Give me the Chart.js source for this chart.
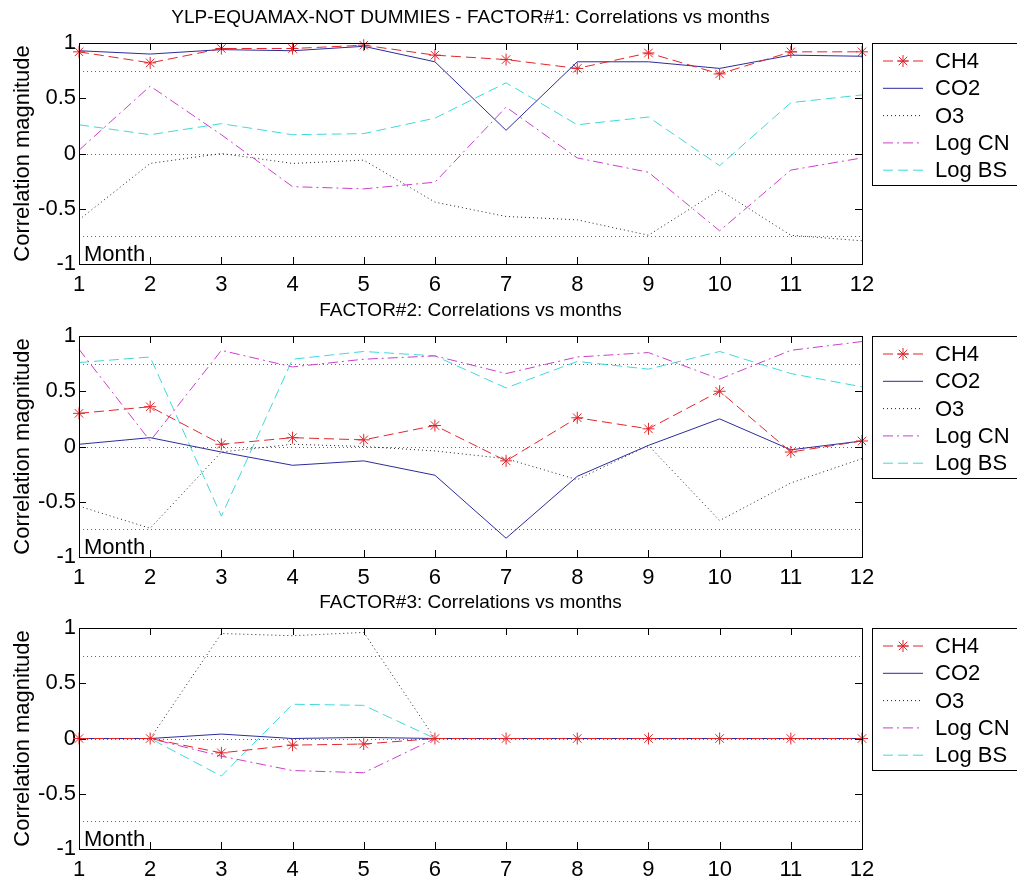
<!DOCTYPE html>
<html>
<head>
<meta charset="utf-8">
<script src="https://cdn.jsdelivr.net/npm/chart.js@4.4.1/dist/chart.umd.min.js"></script>
<style>
  html, body { margin: 0; padding: 0; background: #fff; }
  #wrap { position: relative; width: 1017px; height: 880px; overflow: hidden; }
  .panel { position: absolute; left: 0; width: 1017px; height: 293px; }
</style>
</head>
<body>
<div id="wrap">
  <div class="panel" style="top:0px"><canvas id="factor1" width="1017" height="293"></canvas></div>
  <div class="panel" style="top:293px"><canvas id="factor2" width="1017" height="293"></canvas></div>
  <div class="panel" style="top:585px"><canvas id="factor3" width="1017" height="293"></canvas></div>
</div>
<script>
// months on the x axis and the names in the legend
const months = ['1', '2', '3', '4', '5', '6', '7', '8', '9', '10', '11', '12'];
const seriesNames = ['CH4', 'CO2', 'O3', 'Log CN', 'Log BS'];
const refLevels = [0.75, 0, -0.75];
const yTicks = [-1, -0.5, 0, 0.5, 1];

// FACTOR#1
const f1CH4   = [0.92, 0.82, 0.95, 0.95, 0.98, 0.89, 0.85, 0.77, 0.91, 0.72, 0.92, 0.92];
const f1CO2   = [0.93, 0.90, 0.94, 0.93, 0.97, 0.83, 0.21, 0.83, 0.83, 0.77, 0.89, 0.88];
const f1O3    = [-0.60, -0.09, 0.00, -0.09, -0.06, -0.44, -0.57, -0.60, -0.74, -0.33, -0.74, -0.79];
const f1LogCN = [0.03, 0.61, 0.17, -0.30, -0.32, -0.26, 0.42, -0.04, -0.17, -0.70, -0.15, -0.04];
const f1LogBS = [0.26, 0.17, 0.27, 0.17, 0.18, 0.32, 0.64, 0.26, 0.33, -0.11, 0.46, 0.53];

// FACTOR#2
const f2CH4   = [0.30, 0.36, 0.02, 0.08, 0.06, 0.19, -0.13, 0.26, 0.16, 0.50, -0.05, 0.05];
const f2CO2   = [0.02, 0.08, -0.05, -0.17, -0.13, -0.26, -0.83, -0.27, 0.01, 0.25, -0.03, 0.05];
const f2O3    = [-0.54, -0.74, -0.05, 0.02, 0.00, -0.04, -0.11, -0.30, 0.01, -0.67, -0.33, -0.11];
const f2LogCN = [0.88, 0.05, 0.87, 0.72, 0.79, 0.82, 0.66, 0.81, 0.85, 0.61, 0.87, 0.95];
const f2LogBS = [0.76, 0.81, -0.63, 0.79, 0.86, 0.82, 0.53, 0.77, 0.70, 0.86, 0.66, 0.54];

// FACTOR#3
const f3CH4   = [0, 0, -0.13, -0.06, -0.05, 0, 0, 0, 0, 0, 0, 0];
const f3CO2   = [0, 0, 0.04, 0.00, 0.01, 0, 0, 0, 0, 0, 0, 0];
const f3O3    = [0, 0, 0.95, 0.93, 0.96, 0, 0, 0, 0, 0, 0, 0];
const f3LogCN = [0, 0, -0.16, -0.29, -0.31, 0, 0, 0, 0, 0, 0, 0];
const f3LogBS = [0, 0, -0.34, 0.31, 0.30, 0, 0, 0, 0, 0, 0, 0];

// matlab-like line styles, one per series
const lineStyles = [
    { color: '#e0262b', dash: [10, 5], point: 'star' },
    { color: '#2b2b9c', dash: [], point: false },
    { color: '#222222', dash: [1, 3], point: false },
    { color: '#cc3fcc', dash: [10, 4, 2, 4], point: false },
    { color: '#3fd9d9', dash: [10, 5], point: false }
];

const FONT = '"Liberation Sans", Arial, Helvetica, sans-serif';

// box, inward ticks, reference lines, title, "Month" label and legend
const matlabFrame = {
    id: 'matlabFrame',
    beforeDatasetsDraw(chart) {
        const ctx = chart.ctx;
        const a = chart.chartArea;
        const y = chart.scales.y;
        ctx.save();
        ctx.strokeStyle = '#666';
        ctx.lineWidth = 1;
        ctx.setLineDash([1, 3]);
        refLevels.forEach(function (v) {
            const py = Math.round(y.getPixelForValue(v)) + 0.5;
            ctx.beginPath();
            ctx.moveTo(a.left, py);
            ctx.lineTo(a.right, py);
            ctx.stroke();
        });
        ctx.restore();
    },
    afterDraw(chart, args, opts) {
        const ctx = chart.ctx;
        const a = chart.chartArea;
        const x = chart.scales.x;
        const y = chart.scales.y;
        ctx.save();
        ctx.strokeStyle = '#000';
        ctx.lineWidth = 1;
        ctx.setLineDash([]);
        ctx.strokeRect(a.left + 0.5, a.top + 0.5, a.right - a.left, a.bottom - a.top);

        // inward ticks
        ctx.beginPath();
        months.forEach(function (m, i) {
            const px = Math.round(x.getPixelForValue(i)) + 0.5;
            ctx.moveTo(px, a.bottom); ctx.lineTo(px, a.bottom - 7);
            ctx.moveTo(px, a.top); ctx.lineTo(px, a.top + 7);
        });
        yTicks.forEach(function (v) {
            const py = Math.round(y.getPixelForValue(v)) + 0.5;
            ctx.moveTo(a.left, py); ctx.lineTo(a.left + 7, py);
            ctx.moveTo(a.right, py); ctx.lineTo(a.right - 7, py);
        });
        ctx.stroke();

        // title
        ctx.fillStyle = '#000';
        ctx.font = '19px ' + FONT;
        ctx.textAlign = 'center';
        ctx.textBaseline = 'middle';
        ctx.fillText(opts.title, (a.left + a.right) / 2, 18);

        // "Month" inside the axes
        ctx.font = '22px ' + FONT;
        ctx.textAlign = 'left';
        ctx.textBaseline = 'alphabetic';
        ctx.fillText('Month', a.left + 5, a.bottom - 3);

        // legend box (runs past the right edge, as in the original figure)
        const lx = a.right + 10, ly = a.top, lw = 160, lh = 142;
        ctx.fillStyle = '#fff';
        ctx.fillRect(lx, ly, lw, lh);
        ctx.strokeRect(lx + 0.5, ly + 0.5, lw, lh);
        chart.data.datasets.forEach(function (ds, i) {
            const ry = ly + 18 + i * 27.3;
            ctx.strokeStyle = ds.borderColor;
            ctx.setLineDash(ds.borderDash);
            ctx.beginPath();
            ctx.moveTo(lx + 11, ry);
            ctx.lineTo(lx + 51, ry);
            ctx.stroke();
            ctx.setLineDash([]);
            if (ds.pointStyle) {
                Chart.helpers.drawPoint(ctx, { pointStyle: ds.pointStyle, radius: 6, borderWidth: 1, rotation: 0 }, lx + 31, ry);
            }
            ctx.fillStyle = '#000';
            ctx.font = '22px ' + FONT;
            ctx.textAlign = 'left';
            ctx.textBaseline = 'middle';
            ctx.fillText(ds.label, lx + 63, ry + 1);
        });
        ctx.restore();
    }
};

function makeDatasets(values) {
    return values.map(function (data, i) {
        const st = lineStyles[i];
        return {
            label: seriesNames[i],
            data: data,
            borderColor: st.color,
            backgroundColor: st.color,
            borderWidth: 1,
            borderDash: st.dash,
            pointStyle: st.point,
            pointRadius: st.point ? 6 : 0,
            pointBorderWidth: 1,
            pointBorderColor: st.color,
            tension: 0,
            fill: false,
            clip: false
        };
    });
}

function createFactorChart(canvasId, title, values) {
    const el = document.getElementById(canvasId);
    if (!el) return;
    new Chart(el.getContext('2d'), {
        type: 'line',
        data: {
            labels: months,
            datasets: makeDatasets(values)
        },
        options: {
            responsive: false,
            animation: false,
            layout: { padding: { top: 43, right: 155, left: 0, bottom: 0 } },
            plugins: {
                legend: { display: false },
                tooltip: { enabled: false },
                matlabFrame: { title: title }
            },
            scales: {
                x: {
                    type: 'category',
                    offset: false,
                    grid: { display: false, drawTicks: false },
                    border: { display: false },
                    ticks: {
                        color: '#000',
                        font: { family: FONT, size: 22 },
                        padding: 8,
                        maxRotation: 0,
                        autoSkip: false
                    },
                    afterFit: function (scale) { scale.height = 29; }
                },
                y: {
                    min: -1,
                    max: 1,
                    grid: { display: false, drawTicks: false },
                    border: { display: false },
                    ticks: {
                        stepSize: 0.5,
                        color: '#000',
                        font: { family: FONT, size: 22 },
                        padding: 3,
                        callback: function (v) { return String(v); }
                    },
                    title: {
                        display: true,
                        text: 'Correlation magnitude',
                        color: '#000',
                        font: { family: FONT, size: 22 },
                        padding: { top: 10, bottom: 0 }
                    },
                    afterFit: function (scale) { scale.width = 79; }
                }
            }
        },
        plugins: [matlabFrame]
    });
}

document.addEventListener('DOMContentLoaded', function () {
    createFactorChart('factor1', 'YLP-EQUAMAX-NOT DUMMIES - FACTOR#1: Correlations vs months',
        [f1CH4, f1CO2, f1O3, f1LogCN, f1LogBS]);
    createFactorChart('factor2', 'FACTOR#2: Correlations vs months',
        [f2CH4, f2CO2, f2O3, f2LogCN, f2LogBS]);
    createFactorChart('factor3', 'FACTOR#3: Correlations vs months',
        [f3CH4, f3CO2, f3O3, f3LogCN, f3LogBS]);
});
</script>
</body>
</html>
